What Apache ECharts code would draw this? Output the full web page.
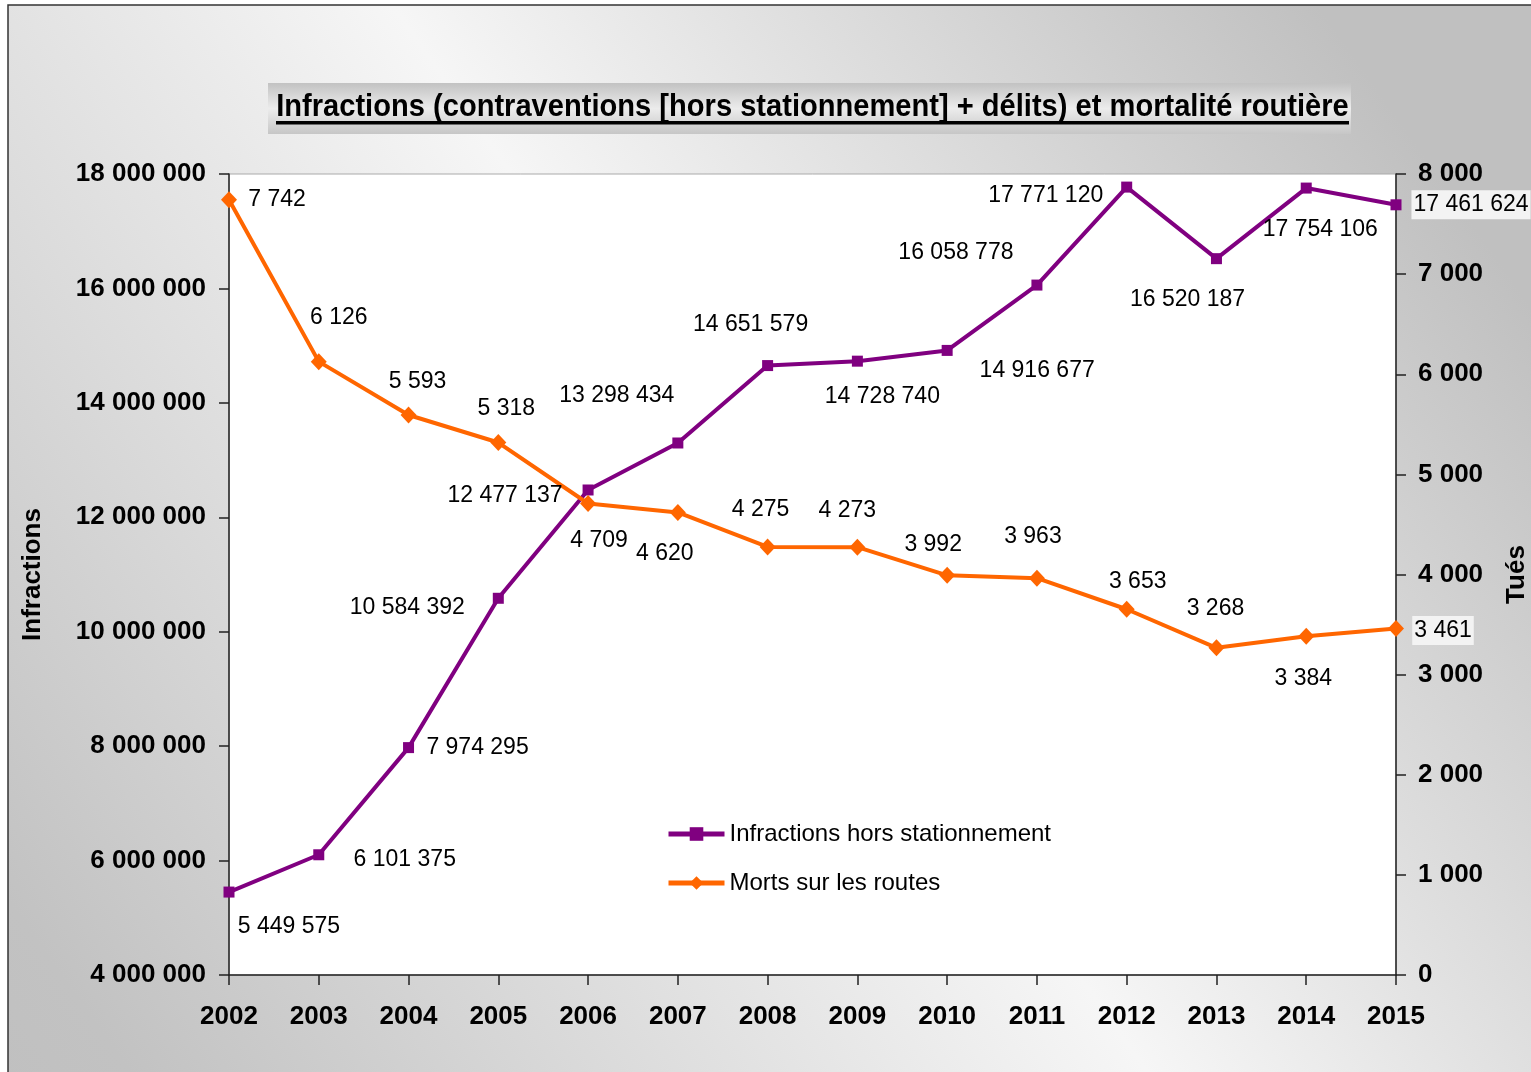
<!DOCTYPE html>
<html><head><meta charset="utf-8">
<script src="https://cdn.jsdelivr.net/npm/echarts@6/dist/echarts.min.js"></script>
<style>html,body{margin:0;padding:0;background:#fff;overflow:hidden;}#c{width:1531px;height:1072px;}</style>
</head><body><div id="c"></div>
<script>
// ---- data ----
const years = ['2002','2003','2004','2005','2006','2007','2008','2009','2010','2011','2012','2013','2014','2015'];
const infractions = [5449575, 6101375, 7974295, 10584392, 12477137, 13298434, 14651579, 14728740, 14916677, 16058778, 17771120, 16520187, 17754106, 17461624];
const morts = [7742, 6126, 5593, 5318, 4709, 4620, 4275, 4273, 3992, 3963, 3653, 3268, 3384, 3461];
const titleText = 'Infractions (contraventions [hors stationnement] + délits) et mortalité routière';
const seriesNames = ['Infractions hors stationnement', 'Morts sur les routes'];
const axisNames = ['Infractions', 'Tués'];

// ---- layout (label offsets relative to each point) ----
const infOff = [[60,35],[86,5],[69,0],[-91,9],[-83,6],[-61,-47],[-17,-41],[25,35],[90,20],[-81,-32],[-81,9],[-29,41],[14,42],[75,0]];
const mortOff = [[48,0],[20,-44],[9,-33],[8,-34],[11,37],[-13,41],[-7,-37],[-10,-37],[-14,-31],[-4,-42],[11,-28],[-1,-39],[-3,42],[47,2]];

const FF = '"Liberation Sans", Arial, sans-serif';
const fmt = n => String(n).replace(/\B(?=(\d{3})+(?!\d))/g, ' ');

// fit title font to width
const cv = document.createElement('canvas').getContext('2d');
cv.font = 'bold 100px "Liberation Sans"';
const tw100 = cv.measureText(titleText).width;
const titleFs = 100 * 1073 / tw100;

const chart = echarts.init(document.getElementById('c'));
const lastBg = {backgroundColor:'#f3f3f3', padding:[4,2,2,2]};
const option = {
  animation: false,
  graphic: [
    {type:'rect', z:-10, silent:true, shape:{x:8,y:5,width:1540,height:1090},
      style:{stroke:'#333', lineWidth:1.5,
        fill:{type:'linear', x:0, y:1, x2:1, y2:0, colorStops:[
          {offset:0,color:'#c0c0c0'},{offset:0.06,color:'#c2c2c2'},{offset:0.5,color:'#f6f6f6'},{offset:0.9,color:'#c0c0c0'},{offset:1,color:'#c0c0c0'}]}}},
    {type:'rect', z:-9, silent:true, shape:{x:268,y:83,width:1083,height:51},
      style:{fill:{type:'linear', x:0,y:0,x2:0,y2:1, colorStops:[{offset:0,color:'#c2c2c2'},{offset:0.5,color:'#ececec'},{offset:1,color:'#c6c6c6'}]}}},
    {type:'text', z:-8, silent:true, x:812.5, y:107, scaleY:1.1, originX:0, originY:0,
      style:{text:titleText, font:'bold '+titleFs.toFixed(2)+'px "Liberation Sans"', textAlign:'center', textVerticalAlign:'middle', fill:'#000'}},
    {type:'rect', z:-8, silent:true, shape:{x:276,y:121,width:1073,height:3.5}, style:{fill:'#000'}}
  ],
  grid: {left:229, right:135, top:174, bottom:97, show:true, backgroundColor:'#ffffff', borderColor:'#aaa', borderWidth:1,
    containLabel:false, outerBoundsMode:'none'},
  legend: {
    orient:'vertical', left:661, top:817, itemWidth:56, itemHeight:17, itemGap:25,
    lineStyle:{width:5},
    textStyle:{fontSize:24, color:'#000', fontFamily:FF},
    data: seriesNames
  },
  xAxis: {
    type:'category', data: years, boundaryGap:false,
    axisLine:{lineStyle:{color:'#222', width:1.5}},
    axisTick:{show:true, length:10, lineStyle:{color:'#222', width:1.5}},
    axisLabel:{fontSize:26, fontWeight:'bold', color:'#000', margin:29, fontFamily:FF}
  },
  yAxis: [
    {type:'value', position:'left', min:4000000, max:18000000, interval:2000000,
      name:axisNames[0], nameLocation:'middle', nameGap:183,
      nameTextStyle:{fontSize:26, fontWeight:'bold', color:'#000', fontFamily:FF},
      axisLine:{show:true, lineStyle:{color:'#222', width:1.5}},
      axisTick:{show:true, length:10, lineStyle:{color:'#222', width:1.5}},
      splitLine:{show:false},
      axisLabel:{formatter:v=>fmt(v), fontSize:26, fontWeight:'bold', color:'#000', margin:23, fontFamily:FF}},
    {type:'value', position:'right', min:0, max:8000, interval:1000,
      name:axisNames[1], nameLocation:'middle', nameGap:108,
      nameTextStyle:{fontSize:26, fontWeight:'bold', color:'#000', fontFamily:FF},
      axisLine:{show:true, lineStyle:{color:'#222', width:1.5}},
      axisTick:{show:true, length:10, lineStyle:{color:'#222', width:1.5}},
      splitLine:{show:false},
      axisLabel:{formatter:v=>fmt(v), fontSize:26, fontWeight:'bold', color:'#000', margin:22, fontFamily:FF}}
  ],
  series: [
    {name:seriesNames[0], type:'line', yAxisIndex:0, symbol:'rect', symbolSize:11, showAllSymbol:true,
      lineStyle:{color:'#800080', width:4}, itemStyle:{color:'#800080'},
      label:{show:true, position:'inside', formatter:p=>fmt(p.value), fontSize:23, color:'#000', fontFamily:FF,
        align:'center', verticalAlign:'middle', textBorderWidth:0, textBorderColor:'transparent'},
      data: infractions.map((v,i)=>({value:v, label:Object.assign({offset:infOff[i]}, i===infractions.length-1?lastBg:{})}))},
    {name:seriesNames[1], type:'line', yAxisIndex:1, symbol:'diamond', symbolSize:[16,17], showAllSymbol:true,
      lineStyle:{color:'#ff6600', width:4}, itemStyle:{color:'#ff6600'},
      label:{show:true, position:'inside', formatter:p=>fmt(p.value), fontSize:23, color:'#000', fontFamily:FF,
        align:'center', verticalAlign:'middle', textBorderWidth:0, textBorderColor:'transparent'},
      data: morts.map((v,i)=>({value:v, label:Object.assign({offset:mortOff[i]}, i===morts.length-1?lastBg:{})}))}
  ]
};
chart.setOption(option);
</script></body></html>
